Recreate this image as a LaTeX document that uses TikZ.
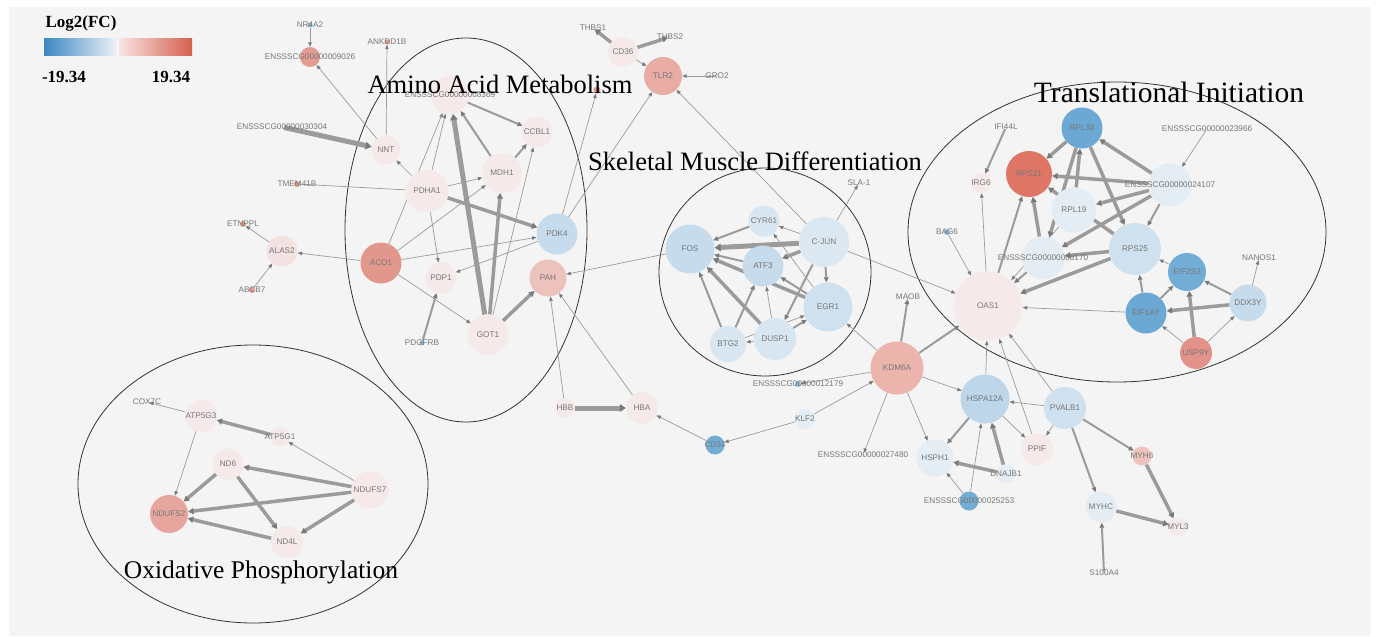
\documentclass[tikz,border=0pt]{standalone}
\usepackage{fontspec}
\setmainfont{Liberation Serif}
\newfontfamily\labfont{Liberation Sans}
\usetikzlibrary{arrows.meta}
\pgfdeclarelayer{bg}
\pgfsetlayers{bg,main}
\definecolor{panel}{HTML}{F4F4F4}
\definecolor{labgray}{HTML}{787878}
\definecolor{edgegray}{HTML}{9B9B9B}
\definecolor{arrowgray}{HTML}{7A7A7A}
\definecolor{pale}{HTML}{F6E9E9}
\definecolor{paleB}{HTML}{F4E2E2}
\definecolor{tinyred}{HTML}{E59A90}
\definecolor{tinyblue}{HTML}{8DBBDD}
\definecolor{rE}{HTML}{E39C92}
\definecolor{rACO}{HTML}{E2978D}
\definecolor{rPAH}{HTML}{ECC2BC}
\definecolor{rTLR}{HTML}{E9ACA5}
\definecolor{rKDM}{HTML}{EBB4AC}
\definecolor{rRPS}{HTML}{DE7565}
\definecolor{rUSP}{HTML}{E29288}
\definecolor{rNDU}{HTML}{E7A69D}
\definecolor{rMYH}{HTML}{EEC3BD}
\definecolor{dblue}{HTML}{72ADD6}
\definecolor{dblueB}{HTML}{6BA8D4}
\definecolor{lbA}{HTML}{BDD6EA}
\definecolor{lbB}{HTML}{C6DBEB}
\definecolor{lbC}{HTML}{CFE1EE}
\definecolor{lbD}{HTML}{D7E6F1}
\definecolor{lbE}{HTML}{DCE8F1}
\definecolor{vlb}{HTML}{E4EDF4}
\definecolor{legblue}{HTML}{3B88C2}
\definecolor{legbluew}{HTML}{EEF2F6}
\definecolor{legred}{HTML}{D5604E}
\definecolor{legredw}{HTML}{F7E4E2}
\tikzset{
  gnode/.style={circle,inner sep=0pt,draw=none},
  glab/.style={font=\labfont\fontsize{8.2}{9}\selectfont,text=labgray,inner sep=0pt},
  eb/.style={draw=edgegray,line cap=butt},
  ezero/.style={eb,line width=0.7pt},
  eone/.style={eb,line width=0.7pt,-{Triangle[length=4.5pt,width=3.5pt,color=arrowgray]}},
  etwo/.style={eb,line width=2pt,-{Triangle[length=5pt,width=4.5pt,color=arrowgray]}},
  ethree/.style={eb,line width=3.5pt,-{Triangle[length=5.5pt,width=6pt,color=arrowgray]}},
  efour/.style={eb,line width=5pt,-{Triangle[length=6pt,width=7.5pt,color=arrowgray]}},
  ell/.style={draw=black!80,line width=0.8pt},
  ttl/.style={anchor=base,inner sep=0pt,text=black},
  leg/.style={font=\bfseries\fontsize{17}{19}\selectfont,inner sep=0pt,text=black}
}
\newcommand\gn[6]{\node[gnode,minimum size={#4*2pt},fill=#5,label={[glab]center:#6}] (#1) at (#2,#3) {};}
\newcommand\ed[3]{\draw[#1] (#2) -- (#3);}
\begin{document}
\begin{tikzpicture}[x=1pt,y=-1pt]
\useasboundingbox (0,0) rectangle (1376,637);
\begin{pgfonlayer}{bg}
\fill[panel] (9,7) rectangle (1371,636);
\draw[ell] (466,230) ellipse [x radius=121pt, y radius=192pt];
\draw[ell] (765,272) ellipse [x radius=106pt, y radius=104pt];
\draw[ell] (1117,232) ellipse [x radius=209pt, y radius=150pt];
\draw[ell] (253,484) ellipse [x radius=175pt, y radius=139pt];
\end{pgfonlayer}
% legend
\node[leg] (legtitle) at (81,23) {Log2(FC)};
\shade[left color=legblue,right color=legbluew] (44,38) rectangle (117,55);
\shade[left color=legredw,right color=legred] (119,38) rectangle (192,55);
\node[leg] (legmin) at (64,77) {-19.34};
\node[leg] (legmax) at (171,77) {19.34};
% nodes: top left
\gn{nrfa}{310}{25}{2.5}{tinyblue}{NR4A2}
\gn{eA}{310}{57}{10}{rE}{ENSSSCG00000009026}
\gn{ankdd}{387}{42}{2.5}{tinyred}{ANKDD1B}
\gn{eB}{282}{127}{2}{pale}{ENSSSCG00000030304}
\gn{nnt}{386}{150}{14.5}{pale}{NNT}
\gn{tmem}{297}{184}{3}{tinyred}{TMEM41B}
\gn{pdha}{427}{191}{21.5}{pale}{PDHA1}
\gn{mdh}{502}{173}{20}{pale}{MDH1}
\gn{ccbl}{537}{132}{15.5}{pale}{CCBL1}
\gn{eC}{450}{95}{19}{pale}{ENSSSCG00000008369}
\gn{pdk}{557}{234}{20.5}{lbB}{PDK4}
\gn{aco}{381}{263}{20.5}{rACO}{ACO1}
\gn{pdp}{441}{278}{15.5}{pale}{PDP1}
\gn{pah}{548}{278}{18.5}{rPAH}{PAH}
\gn{got}{488}{335}{20.5}{pale}{GOT1}
\gn{pdgfrb}{422}{343}{2.5}{tinyblue}{PDGFRB}
\gn{alas}{282}{251}{15.5}{paleB}{ALAS2}
\gn{etnppl}{243}{224}{3}{tinyred}{ETNPPL}
\gn{abcb}{252}{290}{3}{tinyred}{ABCB7}
\node[gnode,minimum size=7pt,fill=tinyred] (hid) at (597,90) {};
% top middle
\gn{thbsA}{593}{28}{2}{pale}{THBS1}
\gn{thbsB}{670}{37}{2}{pale}{THBS2}
\gn{cdts}{623}{52}{15}{pale}{CD36}
\gn{tlr}{663}{76}{19}{rTLR}{TLR2}
\gn{gro}{717}{76}{2}{pale}{GRO2}
% skeletal
\gn{fos}{690}{249}{24.5}{lbB}{FOS}
\gn{cyr}{764}{221}{15.5}{lbD}{CYR61}
\gn{cjun}{824}{242}{25}{lbE}{C-JUN}
\gn{atf}{763}{266}{20.5}{lbB}{ATF3}
\gn{egr}{828}{307}{24.5}{lbC}{EGR1}
\gn{btg}{728}{344}{18}{lbD}{BTG2}
\gn{dusp}{775}{339}{21}{lbD}{DUSP1}
\gn{sla}{859}{183}{2}{pale}{SLA-1}
% bottom middle
\gn{hbb}{565}{408}{10}{pale}{HBB}
\gn{hba}{642}{408}{16}{pale}{HBA}
\gn{cdtf}{715}{445}{9.5}{dblue}{CD34}
\gn{klf}{805}{419}{10}{vlb}{KLF2}
\gn{eD}{798}{384}{3}{tinyblue}{ENSSSCG00000012179}
\gn{kdm}{897}{368}{26.5}{rKDM}{KDM6A}
\gn{maob}{908}{297}{2}{pale}{MAOB}
\gn{eE}{863}{455}{2}{pale}{ENSSSCG00000027480}
% right
\gn{oas}{988}{306}{34.5}{pale}{OAS1}
\gn{ifi}{1006}{127}{2}{pale}{IFI44L}
\gn{irg}{981}{183}{10}{pale}{IRG6}
\gn{rpsA}{1029}{174}{23}{rRPS}{RPS21}
\gn{rplA}{1082}{128}{20.5}{dblueB}{RPL38}
\gn{eF}{1207}{129}{2}{pale}{ENSSSCG00000023966}
\gn{eG}{1170}{185}{21.5}{vlb}{ENSSSCG00000024107}
\gn{rplB}{1074}{210}{22.5}{vlb}{RPL19}
\gn{eH}{1043}{258}{21.5}{vlb}{ENSSSCG00000008170}
\gn{rpsB}{1135}{249}{26}{lbC}{RPS25}
\gn{bag}{947}{232}{3}{tinyblue}{BAG6}
\gn{eif}{1187}{272}{19}{dblue}{EIF2S3}
\gn{nanos}{1259}{258}{2}{pale}{NANOS1}
\gn{ddx}{1248}{303}{18.5}{lbB}{DDX3Y}
\gn{eifay}{1146}{313}{20.5}{dblueB}{EIF1AY}
\gn{usp}{1196}{353}{16}{rUSP}{USP9Y}
% bottom right
\gn{hspa}{985}{399}{24.5}{lbA}{HSPA12A}
\gn{pvalb}{1065}{408}{21}{lbC}{PVALB1}
\gn{hsph}{935}{458}{18.5}{vlb}{HSPH1}
\gn{ppif}{1037}{449}{16}{pale}{PPIF}
\gn{dnaj}{1006}{474}{9.5}{vlb}{DNAJB1}
\gn{eI}{969}{501}{9.5}{dblue}{ENSSSCG00000025253}
\gn{myhs}{1142}{456}{9.5}{rMYH}{MYH6}
\gn{myhc}{1101}{507}{15.5}{vlb}{MYHC}
\gn{myl}{1178}{527}{9.5}{pale}{MYL3}
\gn{sfour}{1104}{573}{2}{pale}{S100A4}
% oxidative
\gn{cox}{147}{402}{2}{pale}{COX7C}
\gn{atpA}{201}{416}{16}{pale}{ATP5G3}
\gn{atpB}{280}{437}{9.5}{pale}{ATP5G1}
\gn{ndsix}{228}{464}{15.5}{pale}{ND6}
\gn{ndufA}{370}{490}{18.5}{pale}{NDUFS7}
\gn{ndufB}{169}{514}{19}{rNDU}{NDUFS2}
\gn{ndfl}{287}{542}{16}{pale}{ND4L}
% titles
\node[ttl,font=\fontsize{26.5}{30}\selectfont] (tAA) at (500,93) {Amino Acid Metabolism};
\node[ttl,font=\fontsize{26.5}{30}\selectfont] (tSM) at (755,170) {Skeletal Muscle Differentiation};
\node[ttl,font=\fontsize{29.5}{32}\selectfont] (tTI) at (1169,102) {Translational Initiation};
\node[ttl,font=\fontsize{25.5}{30}\selectfont] (tOP) at (261,578) {Oxidative Phosphorylation};
% edges
\begin{pgfonlayer}{bg}
\ed{eone}{nrfa}{eA}
\ed{eone}{nnt}{eA}
\ed{eone}{nnt}{ankdd}
\ed{efour}{eB}{nnt}
\ed{eone}{pdha}{nnt}
\ed{ezero}{tmem}{pdha}
\ed{eone}{aco}{alas}
\ed{eone}{alas}{etnppl}
\ed{eone}{abcb}{alas}
\ed{eone}{aco}{eC}
\ed{eone}{pdha}{eC}
\ed{efour}{got}{eC}
\ed{etwo}{mdh}{eC}
\ed{etwo}{eC}{ccbl}
\ed{etwo}{mdh}{ccbl}
\ed{eone}{pdha}{mdh}
\ed{eone}{aco}{mdh}
\ed{ethree}{pdha}{pdk}
\ed{eone}{aco}{pdk}
\ed{eone}{pdk}{pdp}
\ed{eone}{pdha}{pdp}
\ed{eone}{aco}{got}
\ed{etwo}{pdgfrb}{pdp}
\ed{ethree}{got}{mdh}
\ed{eone}{got}{ccbl}
\ed{ethree}{got}{pah}
\ed{eone}{pdk}{hid}
\ed{eone}{pdk}{tlr}
\ed{eone}{cjun}{tlr}
\ed{ethree}{cdts}{thbsA}
\ed{ethree}{cdts}{thbsB}
\ed{eone}{cdts}{tlr}
\ed{eone}{gro}{tlr}
\ed{eone}{fos}{pah}
\ed{eone}{hbb}{pah}
\ed{eone}{hba}{pah}
\ed{efour}{hbb}{hba}
\ed{eone}{cdtf}{hba}
\ed{eone}{klf}{cdtf}
\ed{eone}{klf}{kdm}
\ed{eone}{kdm}{eD}
\ed{eone}{kdm}{egr}
\ed{etwo}{kdm}{maob}
\ed{etwo}{kdm}{oas}
\ed{eone}{kdm}{hspa}
\ed{eone}{kdm}{hsph}
\ed{eone}{kdm}{eE}
\ed{eone}{cjun}{oas}
\ed{eone}{cjun}{sla}
% skeletal
\ed{eone}{cjun}{cyr}
\ed{etwo}{cyr}{fos}
\ed{efour}{cjun}{fos}
\ed{ethree}{cjun}{atf}
\ed{etwo}{atf}{fos}
\ed{ethree}{egr}{fos}
\ed{etwo}{cjun}{egr}
\ed{eone}{egr}{cyr}
\ed{etwo}{cjun}{dusp}
\ed{etwo}{btg}{fos}
\ed{ethree}{dusp}{fos}
\ed{etwo}{btg}{atf}
\ed{eone}{dusp}{atf}
\ed{eone}{dusp}{btg}
\ed{eone}{btg}{egr}
\ed{etwo}{dusp}{egr}
\ed{etwo}{egr}{atf}
% translational
\ed{ethree}{rplA}{eH}
\ed{ethree}{rplA}{rpsB}
\ed{ethree}{rplB}{rplA}
\ed{ethree}{eG}{rplA}
\ed{ethree}{eG}{rpsA}
\ed{ethree}{eG}{rplB}
\ed{ethree}{eG}{eH}
\ed{etwo}{eG}{rpsB}
\ed{eone}{eF}{eG}
\ed{ethree}{rplA}{rpsA}
\ed{ethree}{rpsB}{rpsA}
\ed{ethree}{eH}{rpsA}
\ed{ethree}{rpsB}{eH}
\ed{ethree}{rpsB}{oas}
\ed{etwo}{eH}{oas}
\ed{eone}{rplB}{oas}
\ed{etwo}{oas}{rpsA}
\ed{eone}{oas}{irg}
\ed{etwo}{ifi}{irg}
\ed{eone}{bag}{oas}
\ed{eone}{eifay}{oas}
\ed{etwo}{eifay}{rpsB}
\ed{etwo}{eifay}{eif}
\ed{eone}{eif}{rpsB}
\ed{etwo}{ddx}{eif}
\ed{ethree}{ddx}{eifay}
\ed{eone}{ddx}{nanos}
\ed{ethree}{usp}{eif}
\ed{eone}{usp}{eifay}
\ed{eone}{usp}{ddx}
% bottom right
\ed{eone}{hspa}{oas}
\ed{eone}{ppif}{oas}
\ed{eone}{pvalb}{oas}
\ed{eone}{pvalb}{hspa}
\ed{eone}{pvalb}{ppif}
\ed{eone}{hspa}{ppif}
\ed{etwo}{hspa}{hsph}
\ed{ethree}{dnaj}{hspa}
\ed{ethree}{dnaj}{hsph}
\ed{eone}{eI}{hsph}
\ed{eone}{eI}{hspa}
\ed{etwo}{pvalb}{myhs}
\ed{etwo}{pvalb}{myhc}
\ed{ethree}{myhs}{myl}
\ed{ethree}{myhc}{myl}
\ed{etwo}{sfour}{myhc}
% oxidative
\ed{eone}{atpA}{cox}
\ed{ethree}{atpB}{atpA}
\ed{eone}{ndufA}{atpB}
\ed{eone}{atpA}{ndufB}
\ed{ethree}{ndufA}{ndsix}
\ed{ethree}{ndsix}{ndufB}
\ed{ethree}{ndsix}{ndfl}
\ed{ethree}{ndufA}{ndufB}
\ed{ethree}{ndufA}{ndfl}
\ed{ethree}{ndfl}{ndufB}
\end{pgfonlayer}
\end{tikzpicture}
\end{document}
